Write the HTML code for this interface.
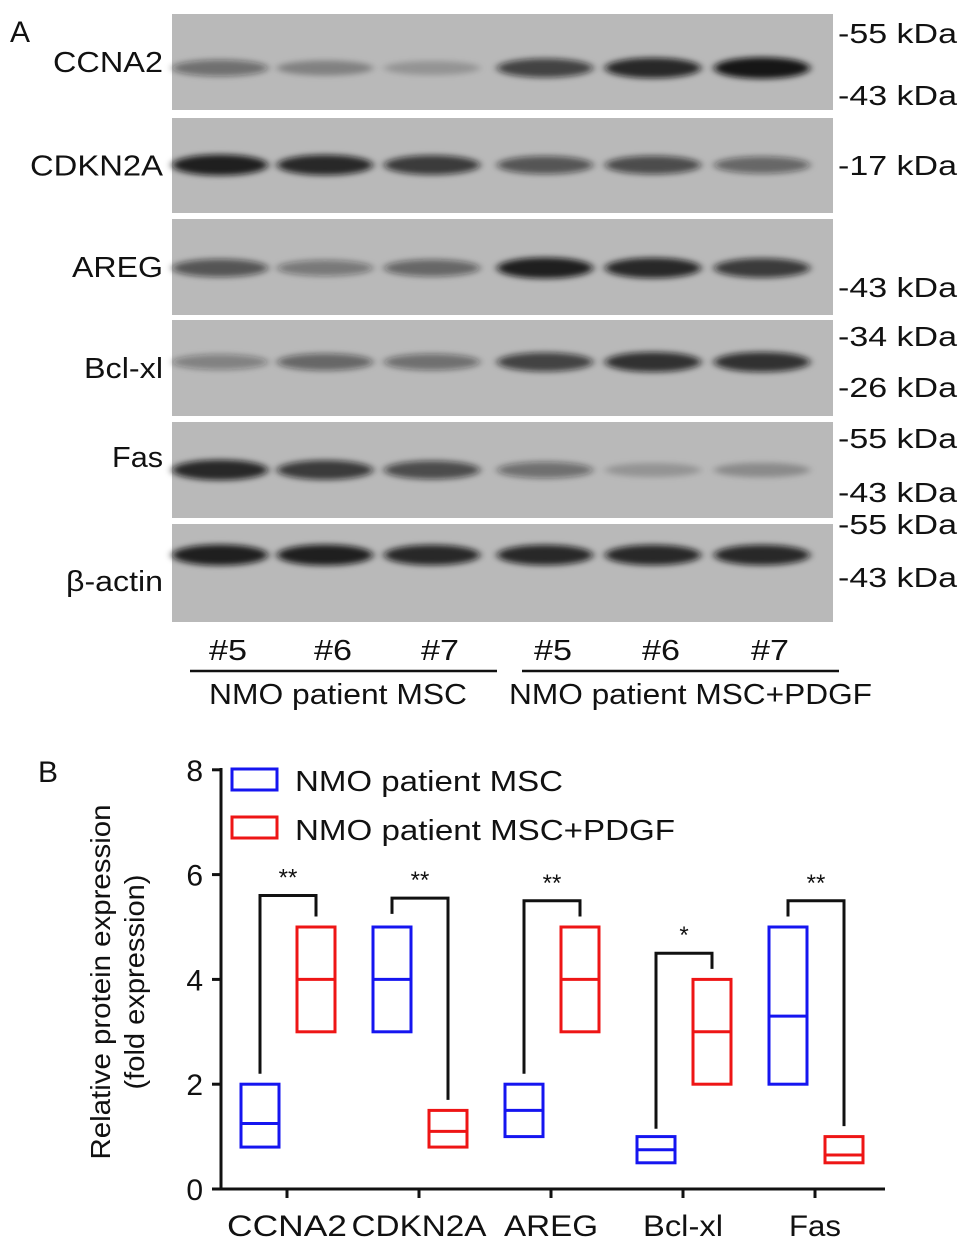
<!DOCTYPE html>
<html><head><meta charset="utf-8"><style>
body{margin:0;background:#fff;width:969px;height:1251px;overflow:hidden;font-family:"Liberation Sans",sans-serif}
svg{position:absolute;left:0;top:0}
</style></head><body>
<svg id="fig" width="969" height="1251">
<defs><filter id="blur" x="-20%" y="-100%" width="140%" height="300%"><feGaussianBlur stdDeviation="4 3"/></filter></defs>
</svg>
<script>
const NS='http://www.w3.org/2000/svg';
const svg=document.getElementById('fig');
function mk(tag,attrs,parent){const e=document.createElementNS(NS,tag);for(const k in attrs)e.setAttribute(k,attrs[k]);(parent||svg).appendChild(e);return e;}
function txt(s,attrs,parent,w){const e=mk('text',attrs,parent);e.textContent=s;if(w){e.setAttribute('textLength',w);e.setAttribute('lengthAdjust','spacingAndGlyphs');}return e;}

// ---- Panel A blot data ----
const proteins=['CCNA2','CDKN2A','AREG','Bcl-xl','Fas','β-actin'];
const labelW=[110,133,91,79,51,97];
const bandIntensity=[[0.45,0.3,0.2,0.7,0.85,0.95],[0.9,0.85,0.75,0.6,0.65,0.5],[0.6,0.4,0.5,0.9,0.85,0.75],[0.35,0.5,0.45,0.7,0.8,0.8],[0.85,0.75,0.65,0.45,0.2,0.25],[0.9,0.9,0.85,0.85,0.85,0.85]];
const markers=[[['55 kDa',33],['43 kDa',95]],[['17 kDa',165]],[['43 kDa',287]],[['34 kDa',336],['26 kDa',387]],[['55 kDa',438],['43 kDa',492]],[['55 kDa',524],['43 kDa',577]]];
const lanes=['#5','#6','#7','#5','#6','#7'];
const panelTops=[14,118,219,320,422,524], panelBots=[110,213,315,416,518,622];
const bandY=[68,165,268,362,470,555];
const laneX=[220,325,432,545,653,762];
txt('A',{x:10,y:42,'font-size':30,fill:'#111'});
proteins.forEach((p,i)=>{
  const g=mk('g',{});
  
  
  mk('rect',{x:172,y:panelTops[i],width:661,height:panelBots[i]-panelTops[i],fill:'#b9b9b9'},g);
  bandIntensity[i].forEach((v,j)=>{
    const b=mk('ellipse',{cx:laneX[j],cy:bandY[i],rx:48,ry:6+5*v,fill:'#111','fill-opacity':v,filter:'url(#blur)'},g);
    
  });
  const l=txt(p,{x:163,y:(panelTops[i]+panelBots[i])/2+(i==4?-3:(i==5?18:10)),'font-size':29,'text-anchor':'end',fill:'#111'},null,labelW[i]);
  
  markers[i].forEach(m=>{
    const t=txt('-'+m[0],{x:838,y:m[1]+10,'font-size':28,fill:'#111'},null,119);
    
  });
});
lanes.forEach((s,j)=>{const t=txt(s,{x:laneX[j]+8,y:660,'font-size':29,'text-anchor':'middle',fill:'#111'},null,38);});
mk('line',{x1:190,x2:497,y1:671,y2:671,stroke:'#111','stroke-width':2.5});
mk('line',{x1:522,x2:839,y1:671,y2:671,stroke:'#111','stroke-width':2.5});
txt('NMO patient MSC',{x:209,y:704,'font-size':29,fill:'#111'},null,258);
txt('NMO patient MSC+PDGF',{x:509,y:704,'font-size':29,fill:'#111'},null,363);

// ---- Panel B chart data ----
const categories=['CCNA2','CDKN2A','AREG','Bcl-xl','Fas'];
const catW=[120,135,94,80,52];
const mscMin=[0.8,3,1,0.5,2], mscMed=[1.25,4,1.5,0.75,3.3], mscMax=[2,5,2,1,5];
const pdgfMin=[3,0.8,3,2,0.5], pdgfMed=[4,1.1,4,3,0.65], pdgfMax=[5,1.5,5,4,1];
const brTop=[5.6,5.55,5.5,4.5,5.5], brLeft=[2.2,5.25,2.2,1.15,5.2], brRight=[5.2,1.7,5.2,4.2,1.2];
const sig=['**','**','**','*','**'];
const yTicks=[0,2,4,6,8];
const y=v=>1189-v*52.4;
const xc=i=>287+i*132;
txt('B',{x:38,y:782,'font-size':30,fill:'#111'});
mk('line',{x1:221,x2:221,y1:768,y2:1190,stroke:'#111','stroke-width':3});
mk('line',{x1:212,x2:885,y1:1189,y2:1189,stroke:'#111','stroke-width':3});
yTicks.forEach(t=>{
  mk('line',{x1:212,x2:221,y1:y(t),y2:y(t),stroke:'#111','stroke-width':3});
  txt(String(t),{x:203,y:y(t)+11,'font-size':30,'text-anchor':'end',fill:'#111'});
});
const yt=txt('',{transform:'translate(0,982) rotate(-90)','font-size':28,'text-anchor':'middle',fill:'#111'});

const t1=mk('tspan',{x:0,y:110,textLength:355,lengthAdjust:'spacingAndGlyphs'},yt);t1.textContent='Relative protein expression';
const t2=mk('tspan',{x:0,y:144,textLength:215,lengthAdjust:'spacingAndGlyphs'},yt);t2.textContent='(fold expression)';
function box(cx,mn,md,mx,col,name){
  const g=mk('g',{});
  
  
  mk('rect',{x:cx-19,y:y(mx),width:38,height:y(mn)-y(mx),fill:'none',stroke:col,'stroke-width':3},g);
  mk('line',{x1:cx-19,x2:cx+19,y1:y(md),y2:y(md),stroke:col,'stroke-width':3},g);
}
categories.forEach((c,i)=>{
  const bx=xc(i)-27, rx=xc(i)+29;
  box(bx,mscMin[i],mscMed[i],mscMax[i],'#1515f0','box-msc-'+c.toLowerCase());
  box(rx,pdgfMin[i],pdgfMed[i],pdgfMax[i],'#ee1515','box-pdgf-'+c.toLowerCase());
  mk('line',{x1:xc(i),x2:xc(i),y1:1189,y2:1198,stroke:'#111','stroke-width':3});
  txt(c,{x:xc(i),y:1236,'font-size':30,'text-anchor':'middle',fill:'#111'},null,catW[i]);
  const p=mk('polyline',{points:`${bx},${y(brLeft[i])} ${bx},${y(brTop[i])} ${rx},${y(brTop[i])} ${rx},${y(brRight[i])}`,fill:'none',stroke:'#111','stroke-width':3});
  
  txt(sig[i],{x:(bx+rx)/2,y:y(brTop[i])-10,'font-size':24,'text-anchor':'middle',fill:'#111'});
});
const lg=mk('g',{});


mk('rect',{x:232,y:769,width:45,height:21,fill:'none',stroke:'#1515f0','stroke-width':3},lg);
txt('NMO patient MSC',{x:295,y:791,'font-size':29,fill:'#111'},lg,268);
mk('rect',{x:232,y:817,width:45,height:21,fill:'none',stroke:'#ee1515','stroke-width':3},lg);
txt('NMO patient MSC+PDGF',{x:295,y:840,'font-size':29,fill:'#111'},lg,380);
</script>
</body></html>
